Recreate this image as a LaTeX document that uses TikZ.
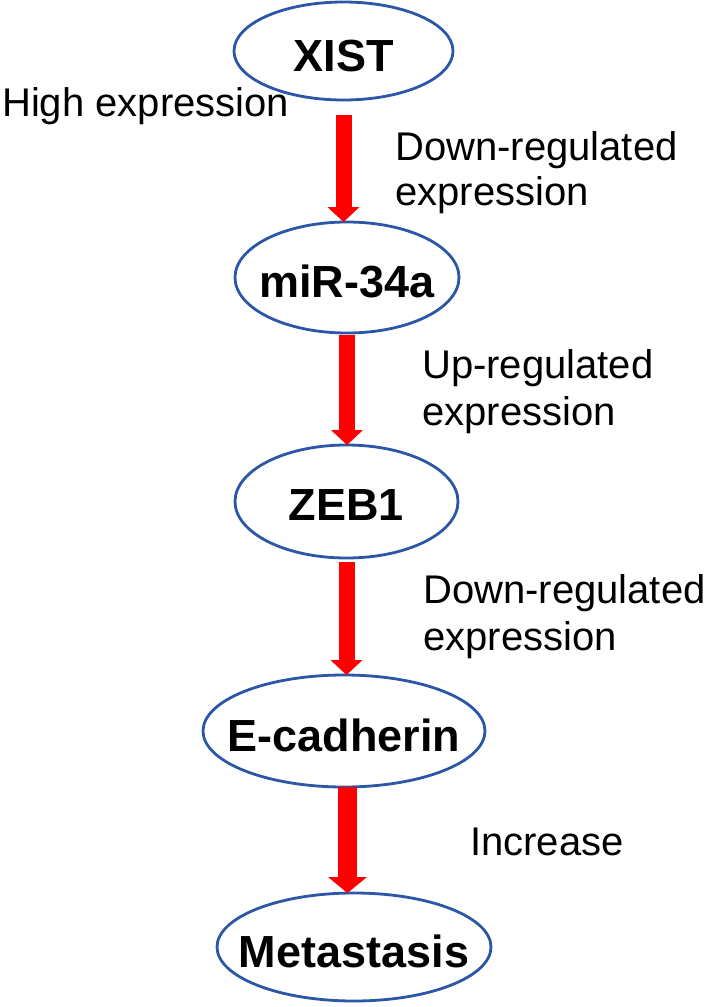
\documentclass[tikz,border=0pt]{standalone}
\usepackage{fontspec}
\setmainfont{Liberation Sans}
\usetikzlibrary{arrows.meta,shapes.geometric}
\definecolor{ellblue}{RGB}{44,86,166}
\definecolor{arrred}{RGB}{255,0,0}
\begin{document}
\begin{tikzpicture}[x=1pt,y=-1pt,
  oval/.style={ellipse, draw=ellblue, line width=2.8pt, inner sep=0pt, outer sep=0pt},
  lbl/.style={inner sep=0pt, font=\fontsize{45}{50}\selectfont\bfseries},
  note/.style={anchor=base west, inner sep=0pt, font=\fontsize{40}{46}\selectfont},
  flow/.style={draw=arrred, line width=16pt, -{Triangle[width=32pt,length=15pt,line width=0pt]}},
  bigflow/.style={draw=arrred, line width=19pt, -{Triangle[width=39pt,length=16pt,line width=0pt]}},
]
\fill[white] (0,0) rectangle (708,1007);
\useasboundingbox (0,0) rectangle (708,1007);
\node[oval, minimum width=219pt, minimum height=98pt, label={[lbl, yshift=-5pt]center:XIST}] (xist) at (343.5,51) {};
\node[oval, minimum width=224pt, minimum height=111pt, label={[lbl, yshift=-4pt]center:miR-34a}] (mir) at (347,277.5) {};
\node[oval, minimum width=223pt, minimum height=113pt, label={[lbl, yshift=-4pt]center:ZEB1}] (zeb) at (346.5,501.5) {};
\node[oval, minimum width=282pt, minimum height=112pt, label={[lbl, yshift=-4pt]center:E-cadherin}] (ecad) at (344,731) {};
\node[oval, minimum width=274pt, minimum height=108pt, label={[lbl, yshift=-4pt]center:Metastasis}] (meta) at (354,947) {};
\draw[flow] ([yshift=-15pt]xist.south) -- (xist.south |- mir.north);
\draw[flow] ([yshift=-2pt]mir.south) -- (mir.south |- zeb.north);
\draw[flow] ([yshift=-4pt]zeb.south) -- (zeb.south |- ecad.north);
\draw[bigflow] ([xshift=3.5pt]ecad.south) -- ([xshift=3.5pt]ecad.south |- meta.north);
\node[note] (t1) at (2,116) {High expression};
\node[note] (t2a) at (395,160) {Down-regulated};
\node[note] (t2b) at (395,205) {expression};
\node[note] (t3a) at (422,378) {Up-regulated};
\node[note] (t3b) at (422,425) {expression};
\node[note] (t4a) at (423,603) {Down-regulated};
\node[note] (t4b) at (423,650) {expression};
\node[note] (t5) at (470,855) {Increase};
\end{tikzpicture}
\end{document}
